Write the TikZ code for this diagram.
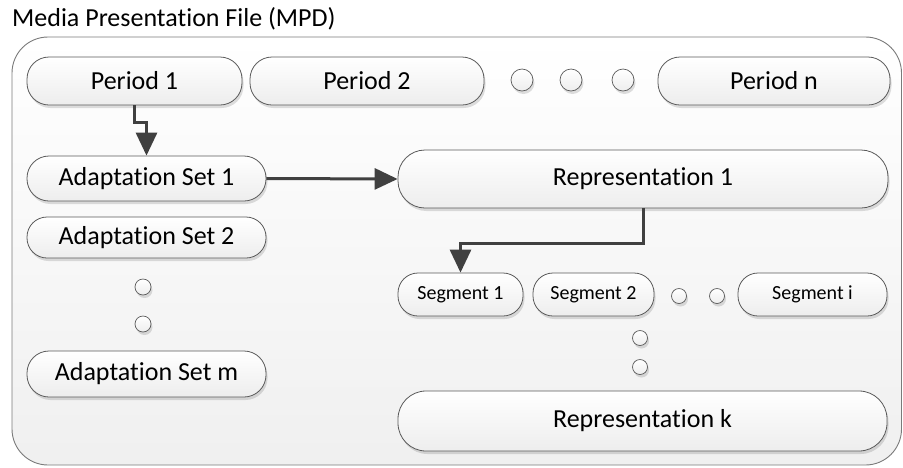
\documentclass[tikz,border=0pt]{standalone}
\usepackage{fontspec}
\setmainfont{Carlito}[RawFeature={-liga;-rlig;-clig;-dlig;-calt}]
\usetikzlibrary{arrows.meta,shadows}
\definecolor{edgegray}{HTML}{5A5A5A}
\definecolor{framegray}{HTML}{7A7A7A}
\definecolor{linkgray}{HTML}{404040}
\tikzset{
  softshadow/.style={drop shadow={shadow xshift=1.5pt, shadow yshift=-3pt, fill=black, opacity=0.13}},
  pill/.style={draw=edgegray, line width=0.8pt, rounded corners=#1,
    top color=white, bottom color=black!7, softshadow,
    inner sep=0pt, text=black, font=\fontsize{26}{30}\selectfont},
  pill/.default=22pt,
  smallpill/.style={pill=20pt, font=\fontsize{20}{24}\selectfont},
  dot/.style={circle, draw=edgegray, line width=0.7pt, top color=white,
    bottom color=black!7, softshadow, inner sep=0pt, minimum size=#1},
  dot/.default=22pt,
  link/.style={draw=linkgray, line width=3pt,
    -{Triangle[length=23pt,width=21pt]}},
}
\begin{document}
\begin{tikzpicture}[x=1pt,y=-1pt]
\useasboundingbox (0,0) rectangle (903,467);

% outer MPD container
\path[draw=framegray, line width=0.9pt, rounded corners=36pt,
      top color=white, bottom color=black!6]
  (12,37) rectangle (901.5,465);
\node[anchor=west, inner sep=0pt, font=\fontsize{26}{30}\selectfont] (title)
  at (12,19) {Media Presentation File (MPD)};

% periods
\node[pill, minimum width=215pt, minimum height=48pt] (p1) at (134.5,81) {Period 1};
\node[pill, minimum width=234pt, minimum height=48pt] (p2) at (367,81) {Period 2};
\node[dot] (pd1) at (522,80) {};
\node[dot] (pd2) at (571,80) {};
\node[dot] (pd3) at (623,80) {};
\node[pill, minimum width=232pt, minimum height=48pt] (pn) at (774,81) {Period n};

% adaptation sets
\node[pill, minimum width=239pt, minimum height=45pt] (a1) at (146.5,178.5) {Adaptation Set 1};
\node[pill=20pt, minimum width=239pt, minimum height=41pt] (a2) at (146.5,237.5) {Adaptation Set 2};
\node[dot=16pt] (ad1) at (143,287) {};
\node[dot=16pt] (ad2) at (143,324) {};
\node[pill, minimum width=239pt, minimum height=46pt] (am) at (146.5,374) {Adaptation Set m};

% representations
\node[pill=27pt, minimum width=490pt, minimum height=58pt] (r1) at (643,179) {Representation 1};
\node[smallpill, minimum width=125pt, minimum height=43pt] (s1) at (460.5,294.5) {Segment 1};
\node[smallpill, minimum width=121pt, minimum height=43pt] (s2) at (593.5,294.5) {Segment 2};
\node[dot=15pt] (sd1) at (679,296) {};
\node[dot=15pt] (sd2) at (717,296) {};
\node[smallpill, minimum width=149pt, minimum height=43pt] (si) at (812.5,294.5) {Segment i};
\node[dot=15pt] (rd1) at (640,338) {};
\node[dot=15pt] (rd2) at (640,367) {};
\node[pill=28pt, minimum width=489pt, minimum height=60pt] (rk) at (642.5,421) {Representation k};

% connectors
\draw[link] (p1.south) -- ++(0,17) -| (a1.north);
\draw[link] (a1.east) -- (r1.west);
\draw[link] (r1.south) -- ++(0,35) -| (s1.north);
\end{tikzpicture}
\end{document}
